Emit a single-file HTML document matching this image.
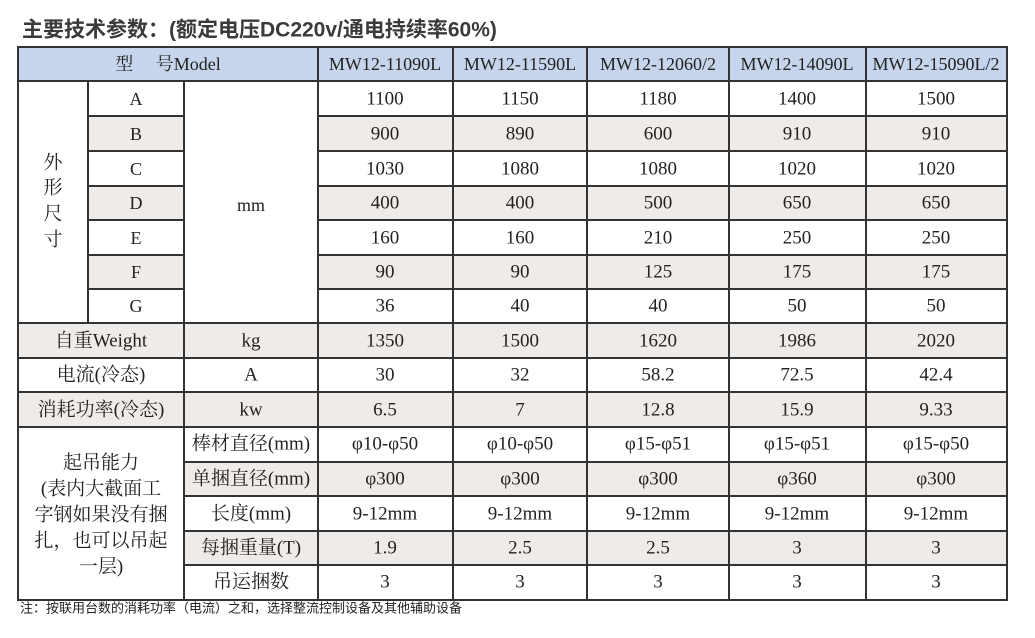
<!DOCTYPE html><html><head><meta charset="utf-8"><style>body{margin:0;background:#fff}svg{display:block}
.t{font-family:"Liberation Serif","Noto Serif CJK SC",serif;font-size:18px;fill:#222;text-anchor:middle;dominant-baseline:central}
.c{font-family:"Liberation Serif","Noto Serif CJK SC",serif;font-size:19px;fill:#222;text-anchor:middle;dominant-baseline:central}
</style></head><body>
<svg width="1035" height="638" xmlns="http://www.w3.org/2000/svg">
<text x="22" y="30" font-family="Liberation Sans,Noto Sans CJK SC,sans-serif" font-size="21" font-weight="bold" fill="#3a3a3a" dominant-baseline="central">主要技术参数：(额定电压DC220v/通电持续率60%)</text>
<rect x="18" y="47" width="989" height="34" fill="#c6d5ec"/>
<g fill="#efebe8">
<rect x="88" y="116" width="96" height="35"/><rect x="318" y="116" width="689" height="35"/>
<rect x="88" y="186" width="96" height="34"/><rect x="318" y="186" width="689" height="34"/>
<rect x="88" y="255" width="96" height="34"/><rect x="318" y="255" width="689" height="34"/>
<rect x="18" y="323" width="989" height="35"/>
<rect x="18" y="392" width="989" height="35"/>
<rect x="184" y="462" width="823" height="34"/>
<rect x="184" y="531" width="823" height="34"/>
</g>
<g stroke="#333" stroke-width="2" fill="none">
<rect x="18" y="47" width="989" height="553"/>
<line x1="18" y1="81" x2="1007" y2="81"/>
<line x1="88" y1="116" x2="184" y2="116"/><line x1="88" y1="151" x2="184" y2="151"/><line x1="88" y1="186" x2="184" y2="186"/><line x1="88" y1="220" x2="184" y2="220"/><line x1="88" y1="255" x2="184" y2="255"/><line x1="88" y1="289" x2="184" y2="289"/>
<line x1="318" y1="116" x2="1007" y2="116"/><line x1="318" y1="151" x2="1007" y2="151"/><line x1="318" y1="186" x2="1007" y2="186"/><line x1="318" y1="220" x2="1007" y2="220"/><line x1="318" y1="255" x2="1007" y2="255"/><line x1="318" y1="289" x2="1007" y2="289"/>
<line x1="18" y1="323" x2="1007" y2="323"/><line x1="18" y1="358" x2="1007" y2="358"/><line x1="18" y1="392" x2="1007" y2="392"/><line x1="18" y1="427" x2="1007" y2="427"/>
<line x1="184" y1="462" x2="1007" y2="462"/><line x1="184" y1="496" x2="1007" y2="496"/><line x1="184" y1="531" x2="1007" y2="531"/><line x1="184" y1="565" x2="1007" y2="565"/>
<line x1="88" y1="81" x2="88" y2="323"/>
<line x1="184" y1="81" x2="184" y2="600"/>
<line x1="318" y1="47" x2="318" y2="600"/><line x1="453" y1="47" x2="453" y2="600"/><line x1="587" y1="47" x2="587" y2="600"/><line x1="729" y1="47" x2="729" y2="600"/><line x1="866" y1="47" x2="866" y2="600"/>
</g>
<g class="t">
<text x="168" y="64">型　 号Model</text>
<text x="385" y="64">MW12-11090L</text><text x="520" y="64">MW12-11590L</text><text x="658" y="64">MW12-12060/2</text><text x="797" y="64">MW12-14090L</text><text x="936" y="64">MW12-15090L/2</text>
<text x="136" y="99">A</text><text x="136" y="134">B</text><text x="136" y="169">C</text><text x="136" y="203">D</text><text x="136" y="238">E</text><text x="136" y="272">F</text><text x="136" y="306">G</text>
<text x="251" y="205">mm</text>
</g>
<g class="c" font-size="20">
<text x="53" y="163">外</text><text x="53" y="188">形</text><text x="53" y="214">尺</text><text x="53" y="240">寸</text>
</g>
<g class="c">
<text x="385" y="99">1100</text><text x="520" y="99">1150</text><text x="658" y="99">1180</text><text x="797" y="99">1400</text><text x="936" y="99">1500</text>
<text x="385" y="134">900</text><text x="520" y="134">890</text><text x="658" y="134">600</text><text x="797" y="134">910</text><text x="936" y="134">910</text>
<text x="385" y="169">1030</text><text x="520" y="169">1080</text><text x="658" y="169">1080</text><text x="797" y="169">1020</text><text x="936" y="169">1020</text>
<text x="385" y="203">400</text><text x="520" y="203">400</text><text x="658" y="203">500</text><text x="797" y="203">650</text><text x="936" y="203">650</text>
<text x="385" y="238">160</text><text x="520" y="238">160</text><text x="658" y="238">210</text><text x="797" y="238">250</text><text x="936" y="238">250</text>
<text x="385" y="272">90</text><text x="520" y="272">90</text><text x="658" y="272">125</text><text x="797" y="272">175</text><text x="936" y="272">175</text>
<text x="385" y="306">36</text><text x="520" y="306">40</text><text x="658" y="306">40</text><text x="797" y="306">50</text><text x="936" y="306">50</text>
<text x="385" y="341">1350</text><text x="520" y="341">1500</text><text x="658" y="341">1620</text><text x="797" y="341">1986</text><text x="936" y="341">2020</text>
</g>
<g class="c">
<text x="101" y="341">自重Weight</text><text x="251" y="341">kg</text>
<text x="101" y="375">电流(冷态)</text><text x="251" y="375">A</text>
<text x="101" y="410">消耗功率(冷态)</text><text x="251" y="410">kw</text>
<text x="385" y="375">30</text><text x="520" y="375">32</text><text x="658" y="375">58.2</text><text x="797" y="375">72.5</text><text x="936" y="375">42.4</text>
<text x="385" y="410">6.5</text><text x="520" y="410">7</text><text x="658" y="410">12.8</text><text x="797" y="410">15.9</text><text x="936" y="410">9.33</text>
<text x="251" y="444">棒材直径(mm)</text><text x="251" y="479">单捆直径(mm)</text><text x="251" y="514">长度(mm)</text><text x="251" y="548">每捆重量(T)</text><text x="251" y="582">吊运捆数</text>
<text x="385" y="444">φ10-φ50</text><text x="520" y="444">φ10-φ50</text><text x="658" y="444">φ15-φ51</text><text x="797" y="444">φ15-φ51</text><text x="936" y="444">φ15-φ50</text>
<text x="385" y="479">φ300</text><text x="520" y="479">φ300</text><text x="658" y="479">φ300</text><text x="797" y="479">φ360</text><text x="936" y="479">φ300</text>
<text x="385" y="514">9-12mm</text><text x="520" y="514">9-12mm</text><text x="658" y="514">9-12mm</text><text x="797" y="514">9-12mm</text><text x="936" y="514">9-12mm</text>
<text x="385" y="548">1.9</text><text x="520" y="548">2.5</text><text x="658" y="548">2.5</text><text x="797" y="548">3</text><text x="936" y="548">3</text>
<text x="385" y="582">3</text><text x="520" y="582">3</text><text x="658" y="582">3</text><text x="797" y="582">3</text><text x="936" y="582">3</text>
<text x="101" y="463">起吊能力</text><text x="101" y="489">(表内大截面工</text><text x="101" y="515">字钢如果没有捆</text><text x="101" y="541">扎，也可以吊起</text><text x="101" y="567">一层)</text>
</g>
<text x="20" y="608" font-family="Liberation Sans,Noto Sans CJK SC,sans-serif" font-size="13" fill="#222" dominant-baseline="central">注：按联用台数的消耗功率（电流）之和，选择整流控制设备及其他辅助设备</text>
</svg></body></html>
